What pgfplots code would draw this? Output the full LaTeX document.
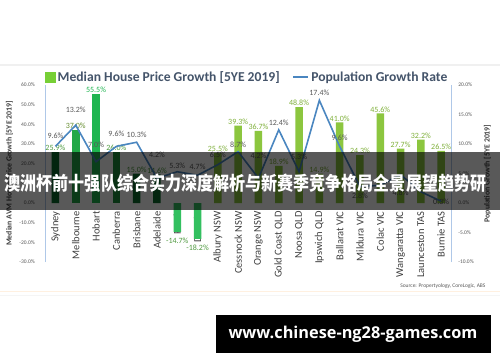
\documentclass[border=0pt]{standalone}
\usepackage{pgfplots}
\pgfplotsset{compat=1.18}
\usepackage{pgfplotstable}
\usepackage{fontspec}
\usepackage{graphicx}
\setmainfont{Carlito}
\newfontfamily\cjk{Noto Sans CJK SC}
\newfontfamily\urlfont{Open Sans}
\definecolor{cDark}{HTML}{0B6B2B}
\definecolor{cMel}{HTML}{22A847}
\definecolor{cHob}{HTML}{1FB550}
\definecolor{cCan}{HTML}{1A8E3C}
\definecolor{cNeg}{HTML}{33C060}
\definecolor{cReg}{HTML}{8CC63F}
\definecolor{cLine}{HTML}{4A86C0}
\definecolor{axblue}{HTML}{AFC8E8}
\definecolor{legtext}{HTML}{44546A}
\definecolor{labgray}{HTML}{595959}
\definecolor{tickgray}{HTML}{404040}
\definecolor{labCap}{HTML}{4F9A3F}
\definecolor{labReg}{HTML}{7FB03A}
\pgfkeys{/pgf/number format/assume math mode=true}

\pgfplotstableread{
x y dy
0 9.6 11
1 13.2 15
2 7.0 17
3 9.6 13
4 10.3 7
5 4.2 23
6 5.3 6
7 4.7 8
8 6.5 10
9 8.7 7
10 4.2 22
11 12.4 7
12 5.3 15
13 17.4 8
14 9.6 9
15 2.8 -9
17 4.8 -18
19 0.3 -1
}\poplabels

\begin{document}
\begin{tikzpicture}[x=1bp,y=1bp]
\path[use as bounding box, fill=white] (0,0) rectangle (500,362);
\fill[black!6] (0,296.5) rectangle (500,298.5);
\fill[orange!12] (0,70) rectangle (500,71.2);
\fill[black!4] (0,66) rectangle (500,67);

\pgfplotsset{
  barlab/.style={nodes near coords={\pgfmathprintnumber[fixed,fixed zerofill,precision=1]{\pgfplotspointmeta}\%},
    every node near coord/.append style={font=\fontsize{8bp}{9bp}\selectfont, text=#1, inner sep=1bp}},
}

\begin{axis}[
  at={(45.3bp,100bp)}, anchor=south west, scale only axis,
  width=406bp, height=177bp,
  xmin=-0.5, xmax=19.5, ymin=-30, ymax=60,
  ytick={-30,-20,...,60},
  yticklabel={\pgfmathprintnumber[fixed,fixed zerofill,precision=1]{\tick}\%},
  yticklabel style={font=\fontsize{5.5bp}{6bp}\selectfont, text=labgray, xshift=-7bp},
  xtick={0,...,19},
  xticklabels={Sydney, Melbourne, Hobart, Canberra, Brisbane, Adelaide, Perth, Darwin, Albury NSW, Cessnock NSW, Orange NSW, Gold Coast QLD, Noosa QLD, Ipswich QLD, Ballarat VIC, Mildura VIC, Colac VIC, Wangaratta VIC, Launceston TAS, Burnie TAS},
  xticklabel style={font=\fontsize{10.5bp}{12bp}\selectfont, text=tickgray, yshift=55bp, rotate=90, anchor=east, inner sep=0pt},
  axis y line*=left, axis x line*=bottom,
  x axis line style={draw=none},
  y axis line style={draw=axblue, line width=1.3bp, -},
  tick style={draw=none},
  ylabel={\bfseries Median AVM House Price Growth [5YE 2019]},
  ylabel style={font=\fontsize{7.8bp}{9bp}\selectfont, text=tickgray, at={(rel axis cs:0,0.5)}, anchor=south, yshift=29bp},
  ybar, bar width=7.5bp,
]
\addplot[fill=cDark, draw=none, bar shift=0pt, barlab=labCap] coordinates {(0,25.9) (4,15.0) (5,14.6)};
\addplot[fill=cMel, draw=none, bar shift=0pt, barlab=labReg!80!black] coordinates {(1,37.0)};
\addplot[fill=cHob, draw=none, bar shift=0pt, barlab=cHob] coordinates {(2,55.5)};
\addplot[fill=cCan, draw=none, bar shift=0pt, barlab=labCap] coordinates {(3,26.0)};
\addplot[fill=cNeg, draw=none, bar shift=0pt, barlab=labCap, every node near coord/.append style={yshift=-5bp}] coordinates {(6,-14.7) (7,-18.2)};
\addplot[fill=cReg, draw=none, bar shift=0pt, barlab=labReg] coordinates {
 (8,25.5) (9,39.3) (10,36.7) (11,18.9) (12,48.8) (13,14.9) (14,41.0) (15,24.3) (16,45.6) (17,27.7) (18,32.2) (19,26.5)};
\end{axis}

\begin{axis}[
  at={(45.3bp,100bp)}, anchor=south west, scale only axis,
  width=406bp, height=177bp,
  xmin=-0.5, xmax=19.5, ymin=-10, ymax=20,
  ytick={-10,-5,...,20},
  yticklabel={\pgfmathprintnumber[fixed,fixed zerofill,precision=1]{\tick}\%},
  yticklabel style={font=\fontsize{5.5bp}{6bp}\selectfont, text=labgray, xshift=3.5bp},
  axis y line*=right, axis x line=none,
  y axis line style={draw=axblue, line width=1.3bp, -},
  tick style={draw=none},
  ylabel={\bfseries Population Growth [5YE 2019]},
  ylabel style={font=\fontsize{7.8bp}{9bp}\selectfont, text=tickgray, at={(rel axis cs:1,0.5)}, rotate=0, anchor=north, yshift=-29bp},
  legend style={at={(0.5,1)}, anchor=center, xshift=-1bp, yshift=8bp, draw=none, fill=none,
    font=\fontsize{13.6bp}{15bp}\selectfont\bfseries, text=legtext,
    /tikz/every even column/.append style={column sep=11bp}},
  legend columns=2,
  legend image code/.code={\draw[#1] (0bp,0bp) -- (15bp,0bp);},
]
\addlegendimage{legend image code/.code={\fill[cReg!85!green] (4bp,-5bp) rectangle (14bp,5bp);}}
\addlegendentry{Median House Price Growth [5YE 2019]}
\addplot[cLine, line width=1.6bp, mark=none] coordinates {
 (0,9.6) (1,13.2) (2,7.0) (3,9.6) (4,10.3) (5,4.2) (6,5.3) (7,4.7) (8,6.5) (9,8.7)
 (10,4.2) (11,12.4) (12,5.3) (13,17.4) (14,9.6) (15,2.8) (16,3.0) (17,4.8) (18,1.9) (19,0.3)};
\addlegendentry{Population Growth Rate}
\addplot[draw=none, mark=none, forget plot, point meta=y,
  nodes near coords={\pgfmathprintnumber[fixed,fixed zerofill,precision=1]{\pgfplotspointmeta}\%},
  visualization depends on={\thisrow{dy}\as\dy},
  every node near coord/.append style={anchor=center, yshift=\dy bp, font=\fontsize{8bp}{9bp}\selectfont, text=labgray, inner sep=0pt}]
  table[x=x, y=y] {\poplabels};
\end{axis}

\node[anchor=east, font=\fontsize{5.5bp}{6bp}\selectfont, text=labgray] at (489,76) {Source: Propertyology, CoreLogic, ABS};

% banner
\fill[black, opacity=0.65] (0,152) rectangle (500,210);
\node[text=white, inner sep=0pt] at (245.5,179) {\scalebox{0.845}[1]{\cjk\bfseries\fontsize{19bp}{22bp}\selectfont 澳洲杯前十强队综合实力深度解析与新赛季竞争格局全景展望趋势研}};

% url box
\fill[black] (216,9) rectangle (491,47);
\node[text=white, inner sep=0pt] at (353,28) {\urlfont\bfseries\fontsize{16.3bp}{19bp}\selectfont www.chinese-ng28-games.com};
\end{tikzpicture}
\end{document}
